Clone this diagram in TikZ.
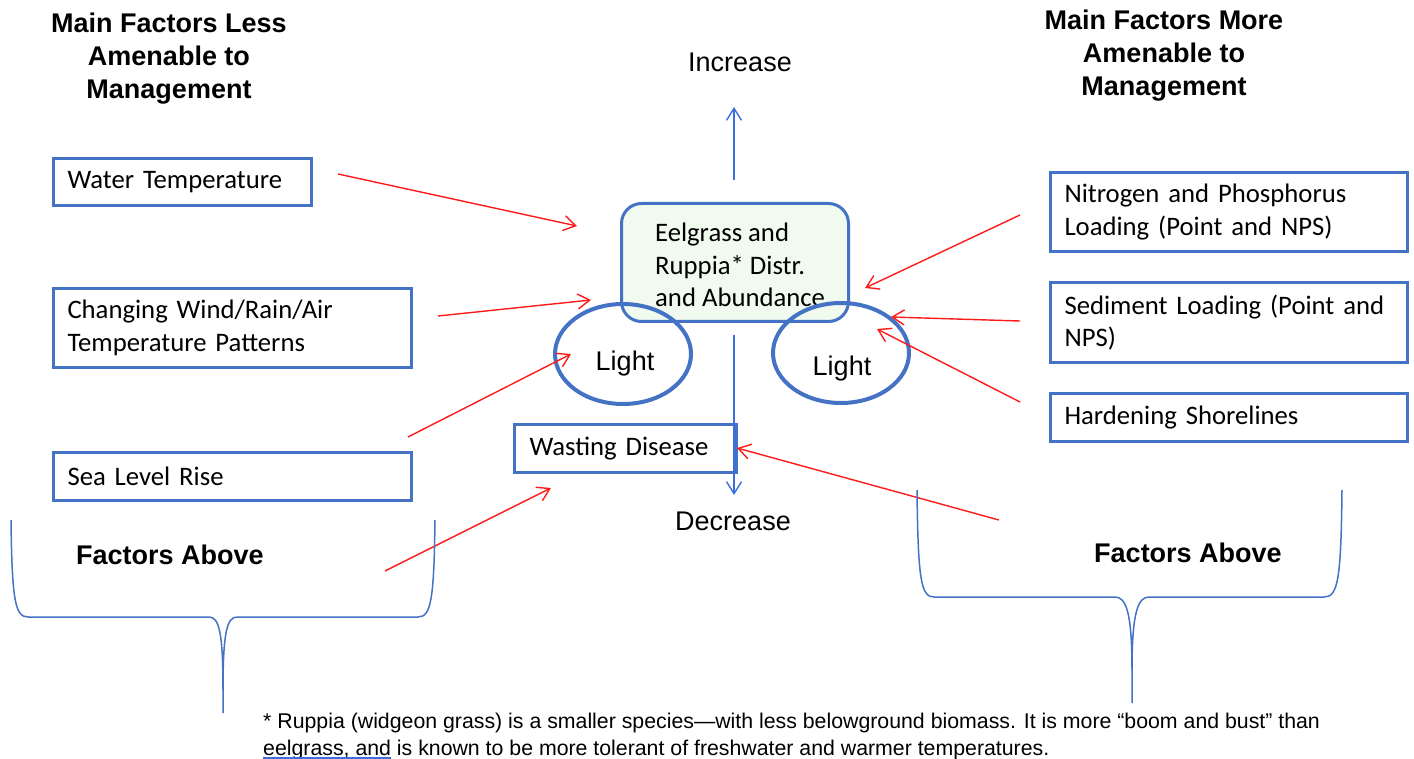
\documentclass[tikz,border=0pt]{standalone}
\usepackage{fontspec}
\setmainfont{Liberation Sans}
\newfontfamily\calfont{Carlito}
\newfontfamily\notefont{Liberation Sans}
\usetikzlibrary{arrows.meta,shapes.geometric}
\definecolor{bblue}{HTML}{4472C4}
\definecolor{lineblue}{HTML}{3B6FDD}
\definecolor{ared}{HTML}{FF1A1A}
\definecolor{lgreen}{HTML}{F1FAEF}
\tikzset{
  title/.style={font=\fontsize{27}{33}\selectfont\bfseries, align=center, inner sep=0},
  big/.style={font=\fontsize{27}{32}\selectfont, inner sep=0},
  fbox/.style={draw=bblue, line width=3, inner xsep=14, inner ysep=0, align=left,
    anchor=north west, font=\calfont\fontsize{26.7}{32.6}\selectfont},
  rarrow/.style={draw=ared, line width=1.4, -{Straight Barb[length=12,width=15]}},
  barrow/.style={draw=lineblue, line width=1.4, -{Straight Barb[length=12,width=15]}},
  lightell/.style={ellipse, draw=bblue, line width=4, minimum width=136, minimum height=100, inner sep=0},
  bracel/.style={draw=bblue, line width=1.5}
}
\begin{document}
\begin{tikzpicture}[x=1pt,y=-1pt]
\useasboundingbox (0,0) rectangle (1414,759);

% titles
\node[title] (tl) at (169,59) {Main Factors Less\\Amenable to\\Management};
\node[title] (tr) at (1164,56) {Main Factors More\\Amenable to\\Management};
\node[big] (inc) at (740,62) {Increase};
\node[big] (dec) at (733,521) {Decrease};

% left boxes
\node[fbox, minimum width=258, minimum height=47, text width=230] (wt) at (52,157) {Water Temperature};
\node[fbox, minimum width=358, minimum height=79, text width=330] (cw) at (52,287) {Changing Wind/Rain/Air\\Temperature Patterns};
\node[fbox, minimum width=358, minimum height=48, text width=330] (sl) at (52,451) {Sea Level Rise};

% right boxes
\node[fbox, minimum width=357, minimum height=79, text width=329] (np) at (1049,171) {Nitrogen and Phosphorus\\Loading (Point and NPS)};
\node[fbox, minimum width=357, minimum height=80, text width=329] (sd) at (1049,281) {Sediment Loading (Point and\\NPS)};
\node[fbox, minimum width=357, minimum height=48, text width=329] (hs) at (1049,392) {Hardening Shorelines};

% wasting disease
\node[fbox, minimum width=222, minimum height=48, text width=192, inner xsep=15] (wd) at (513,423) {Wasting Disease};

% central box
\node[draw=bblue, line width=3, fill=lgreen, rounded corners=20, minimum width=227, minimum height=118, anchor=north west, inner sep=0] (eel) at (620,202) {};
\node[anchor=west, align=left, inner sep=0, font=\calfont\fontsize{26.7}{32.6}\selectfont] (eeltxt) at (655,265) {Eelgrass and\\Ruppia* Distr.\\and Abundance};

% light ellipses
\node[lightell] (lightL) at (623,354) {};
\node[big] (lightLt) at (625,364) {Light};
\node[lightell] (lightR) at (841,353) {};
\node[big] (lightRt) at (842,369) {Light};

% blue arrows
\coordinate (upS) at (734,180);
\coordinate (upE) at (734,107);
\coordinate (dnS) at (734,335);
\coordinate (dnE) at (734,495);
\draw[barrow] (upS) -- (upE);
\draw[barrow] (dnS) -- (dnE);

% red arrows left
\coordinate (a1s) at (338,174); \coordinate (a1e) at (577,226);
\coordinate (a2s) at (438,316); \coordinate (a2e) at (591,300);
\coordinate (a3s) at (408,437); \coordinate (a3e) at (571,354);
\coordinate (a4s) at (385,571); \coordinate (a4e) at (551,488);
\draw[rarrow] (a1s) -- (a1e);
\draw[rarrow] (a2s) -- (a2e);
\draw[rarrow] (a3s) -- (a3e);
\draw[rarrow] (a4s) -- (a4e);

% red arrows right
\coordinate (b1s) at (1020,215); \coordinate (b1e) at (865,288);
\coordinate (b2s) at (1020,321); \coordinate (b2e) at (891,317);
\coordinate (b3s) at (1020,402); \coordinate (b3e) at (877,329);
\coordinate (b4s) at (999,520); \coordinate (b4e) at (737,448);
\draw[rarrow] (b1s) -- (b1e);
\draw[rarrow] (b2s) -- (b2e);
\draw[rarrow] (b3s) -- (b3e);
\draw[rarrow] (b4s) -- (b4e);

% braces
\draw[bracel] (11,520) .. controls (12,600) and (15,617) .. (28,617) -- (209,617)
  .. controls (219,617) and (223,632) .. (223,690) -- (223,713);
\draw[bracel] (435,520) .. controls (434,600) and (431,617) .. (418,617) -- (237,617)
  .. controls (227,617) and (223,632) .. (223,690);
\draw[bracel] (917,490) .. controls (918,580) and (921,597) .. (934,597) -- (1115,597)
  .. controls (1126,597) and (1132,612) .. (1132,670) -- (1132,703);
\draw[bracel] (1342,490) .. controls (1341,580) and (1338,597) .. (1324,597) -- (1149,597)
  .. controls (1138,597) and (1132,612) .. (1132,670);

\node[title] (fal) at (170,555) {Factors Above};
\node[title] (far) at (1188,553) {Factors Above};

% footnote
\node[anchor=west, align=left, inner sep=0, font=\notefont\fontsize{21.3}{27}\selectfont] (note) at (263,736)
  {* Ruppia (widgeon grass) is a smaller species—with less belowground biomass. It is more “boom and bust” than\\
   eelgrass, and is known to be more tolerant of freshwater and warmer temperatures.};
\coordinate (ulS) at (263,758);
\coordinate (ulE) at (391,758);
\draw[draw=lineblue, line width=1.2] (ulS) -- (ulE);
\end{tikzpicture}
\end{document}
